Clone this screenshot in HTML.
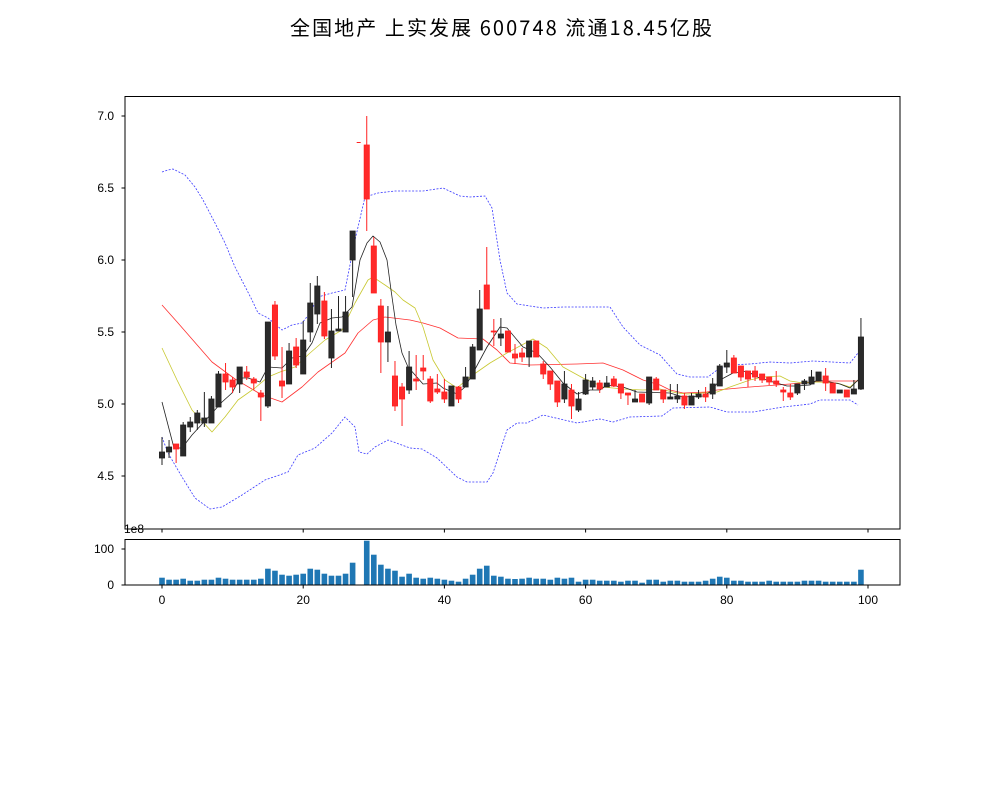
<!DOCTYPE html>
<html><head><meta charset="utf-8">
<style>
html,body{margin:0;padding:0;background:#fff;width:1000px;height:800px;overflow:hidden}
svg text{font-family:"Liberation Sans","Noto Sans CJK SC",sans-serif;fill:#000}
</style></head>
<body>
<svg id="s" width="1000" height="800" xmlns="http://www.w3.org/2000/svg">
<rect width="1000" height="800" fill="#fff"/>
<text x="501" y="35" text-anchor="middle" font-size="20" textLength="422" style='font-family:"Noto Sans CJK SC",sans-serif'>全国地产 上实发展 600748 流通18.45亿股</text>
<g id="g"></g>
<rect x="125" y="96.5" width="775" height="432.5" fill="none" stroke="#000" stroke-width="1"/>
<rect x="125" y="539.5" width="775" height="45.5" fill="none" stroke="#000" stroke-width="1"/>
<g font-size="12" text-anchor="end">
<text x="114" y="120">7.0</text><line x1="121.5" x2="125" y1="116" y2="116" stroke="#000"/>
<text x="114" y="192">6.5</text><line x1="121.5" x2="125" y1="188" y2="188" stroke="#000"/>
<text x="114" y="264">6.0</text><line x1="121.5" x2="125" y1="260" y2="260" stroke="#000"/>
<text x="114" y="336">5.5</text><line x1="121.5" x2="125" y1="332" y2="332" stroke="#000"/>
<text x="114" y="408">5.0</text><line x1="121.5" x2="125" y1="404" y2="404" stroke="#000"/>
<text x="114" y="480">4.5</text><line x1="121.5" x2="125" y1="476" y2="476" stroke="#000"/>
<text x="114" y="553">100</text><line x1="121.5" x2="125" y1="549" y2="549" stroke="#000"/>
<text x="114" y="589">0</text><line x1="121.5" x2="125" y1="585" y2="585" stroke="#000"/>
</g>
<text x="124" y="533" font-size="12">1e8</text>
<g font-size="12" text-anchor="middle" id="xt"></g>
</svg>
<script>
var C=[
[452,458,437,465,'k'],[447,452,440,458,'k'],[444,449,445,463,'r'],[425,456,422,456,'k'],[422,427,417,432,'k'],
[413,423,410,430,'k'],[418,423,392,427,'k'],[399,423,396,423,'k'],[374,407,371,407,'k'],[374,382,363,390,'r'],
[380,387,377,393,'r'],[367,384,367,393,'k'],[372,377,366,380,'r'],[379,383,377,390,'r'],[393,397,390,421,'r'],
[322,406,322,408,'k'],[305,356,301,360,'r'],[381,386,347,398,'r'],[351,384,343,384,'k'],[347,365,338,368,'r'],
[340,374,321,374,'k'],[303,332,283,342,'k'],[286,314,276,324,'k'],[301,336,292,339,'r'],[331,358,309,368,'k'],
[329,331,296,331,'k'],[312,332,296,332,'k'],[231,260,231,297,'k'],[142,143,142,143,'r'],[145,199,116,231,'r'],
[246,293,237,293,'r'],[306,342,299,373,'r'],[332,342,306,362,'k'],[376,406,361,411,'r'],[387,399,383,426,'r'],
[367,390,351,394,'k'],[379,381,355,390,'r'],[368,371,355,380,'r'],[379,401,376,403,'r'],[389,392,374,394,'r'],
[392,399,379,403,'r'],[386,406,386,406,'k'],[387,399,386,403,'r'],[377,387,367,387,'k'],[347,379,344,379,'k'],
[309,350,290,350,'k'],[285,309,247,309,'r'],[331,332,319,346,'r'],[334,338,318,346,'k'],[331,352,331,352,'r'],
[354,358,344,364,'r'],[353,357,348,362,'r'],[341,357,341,367,'k'],[341,357,341,357,'r'],[364,374,361,379,'r'],
[371,384,371,390,'r'],[381,402,381,407,'r'],[384,399,371,403,'k'],[390,406,384,419,'r'],[399,410,392,412,'k'],
[380,394,374,395,'k'],[381,387,377,390,'k'],[383,389,380,393,'r'],[383,387,376,387,'k'],[379,386,376,387,'r'],
[384,393,384,399,'r'],[393,395,393,405,'r'],[399,402,390,402,'k'],[394,402,394,402,'r'],[377,403,377,405,'k'],
[379,390,377,390,'r'],[390,399,390,403,'r'],[397,399,384,399,'k'],[396,399,384,403,'k'],[396,405,393,409,'r'],
[396,405,393,405,'k'],[394,397,390,399,'k'],[394,397,387,402,'r'],[384,394,378,399,'k'],[366,386,364,386,'k'],
[363,367,350,373,'k'],[358,373,355,373,'r'],[366,377,366,381,'r'],[371,379,371,387,'r'],[371,377,366,381,'r'],
[374,380,374,383,'r'],[377,382,377,385,'r'],[381,384,371,387,'r'],[390,392,387,401,'r'],[393,397,384,400,'r'],
[384,393,384,395,'k'],[381,384,379,390,'k'],[377,384,370,384,'k'],[372,381,372,381,'k'],[376,383,368,391,'r'],
[383,393,383,393,'r'],[390,393,390,393,'k'],[390,397,390,397,'r'],[389,394,380,394,'k'],[337,389,318,390,'k']];
var V=[7.3,5.3,5.3,6.3,4.3,4.3,5.3,5.3,7.3,6.3,5.3,5.3,5.3,5.3,6.3,16.3,14.3,10.3,9.3,10.3,11.3,16.3,15.3,11.3,9.3,9.3,11.3,22.3,3.3,44.3,30.3,20.3,16.3,14.3,8.3,11.3,7.3,6.3,7.3,6.3,5.3,4.3,3.3,6.3,10.3,16.3,19.3,9.3,8.3,6.3,6,6.3,7.3,6.3,6.3,5.3,7.3,6.3,7.3,3.3,5.3,5.3,4.3,4.3,4.3,3.3,4.3,4.3,2.3,5.3,5.3,3.3,4.3,4.3,3.3,3.3,3.3,4.3,6.3,8.3,7.3,4.3,4.3,3.3,3.3,3.3,4.3,3.3,3.3,3.3,3.3,4.3,4.3,4.3,3.3,3.3,3.3,3.3,3.3,15.3];
var up="162,172 168,170 173,169 185,175 195,187 203,200 215,223 225,243 235,267 252,300 258,313 268,318 282,330 292,325 302,323 310,313 318,297 332,293 345,290 355,240 365,197 378,193 395,191 423,191 443,188 460,196 470,197 485,196 492,208 500,260 507,293 517,304 543,308 563,307 610,307 623,327 640,345 660,355 667,363 677,374 690,377 708,377 717,370 730,365 750,364 770,362 790,363 813,361 850,363 858,353";
var lo="162,437 168,453 182,477 195,498 210,509 222,507 242,495 265,480 288,472 298,455 315,448 332,433 345,417 355,427 359,452 367,454 375,447 388,440 410,448 422,449 437,458 457,477 467,482 487,482 493,473 507,430 517,423 527,423 543,415 577,423 600,419 613,422 630,417 662,416 673,408 710,407 727,412 753,412 783,407 810,404 820,400 850,400 858,405";
var m5="162,402 174,448 182,448 192,435 203,423 213,412 222,402 232,393 240,378 248,378 260,382 268,367 282,368 292,358 303,356 312,343 320,323 332,318 342,317 352,307 360,260 367,243 373,236 380,242 387,260 391,290 396,325 402,353 408,367 423,384 437,383 443,388 457,394 465,387 473,373 487,347 500,327 507,328 523,347 537,353 550,367 563,383 577,394 590,390 600,390 607,385 623,387 637,392 670,393 683,397 703,396 710,392 720,380 733,373 747,371 757,377 773,382 787,386 797,386 810,385 817,380 830,382 840,384 850,388 858,380";
var m10="162,348 177,380 192,410 212,432 225,417 238,400 255,388 268,377 280,372 295,367 310,353 325,340 342,330 355,303 368,280 373,277 385,285 395,292 403,300 415,308 423,327 433,360 445,380 457,388 470,377 490,363 507,353 533,339 547,348 563,367 583,378 603,387 623,389 643,390 660,389 677,393 687,394 717,392 730,387 750,380 763,377 780,376 790,381 803,383 817,382 837,383 850,387 858,380";
var m20="162,305 178,323 212,362 235,379 262,395 282,402 302,387 318,372 345,353 358,333 373,320 385,317 410,320 423,323 440,328 458,338 483,339 497,350 510,363 530,365 577,364 603,363 623,370 643,380 660,385 670,390 683,393 707,392 717,390 750,387 790,384 823,381 858,381";
var h='';
function pl(p,c,w,d){return '<polyline points="'+p+'" fill="none" stroke="'+c+'" stroke-width="'+w+'"'+(d?' stroke-dasharray="'+d+'"':'')+' stroke-linejoin="round"/>';}
h+=pl(up,'#3a3aff',0.8,'2,1.5')+pl(lo,'#3a3aff',0.8,'2,1.5');
h+=pl(m20,'#ff3030',0.8)+pl(m10,'#c8c830',0.8)+pl(m5,'#222',0.8);
for(var i=0;i<100;i++){var x=162+7.06*i,c=C[i],col=c[4]=='r'?'#ff2020':'#222';
var hi=Math.min(c[2],c[0]),lw=Math.max(c[3],c[1]);
h+='<line x1="'+x+'" x2="'+x+'" y1="'+hi+'" y2="'+lw+'" stroke="'+col+'" stroke-width="1"/>';
var ht=Math.max(c[1]-c[0],1);
if(i==28){h+='<line x1="'+(x-3)+'" x2="'+(x+1)+'" y1="142.5" y2="142.5" stroke="#ff2020"/>';continue;}
h+='<rect x="'+(x-2.6)+'" y="'+c[0]+'" width="5.2" height="'+ht+'" fill="'+(c[4]=='r'?'#ff2a2a':'#2a2a2a')+'" stroke="'+col+'" stroke-width="0.8"/>';
var vh=V[i];h+='<rect x="'+(x-2.8)+'" y="'+(585-vh)+'" width="5.6" height="'+vh+'" fill="#1f77b4"/>';}
document.getElementById('g').innerHTML=h;
var t='';[0,20,40,60,80,100].forEach(function(v){var x=162+7.06*v;
t+='<line x1="'+x+'" x2="'+x+'" y1="529" y2="532.5" stroke="#000"/><line x1="'+x+'" x2="'+x+'" y1="585" y2="588.5" stroke="#000"/><text x="'+x+'" y="604">'+v+'</text>';});
document.getElementById('xt').innerHTML=t;
</script>
</body></html>
